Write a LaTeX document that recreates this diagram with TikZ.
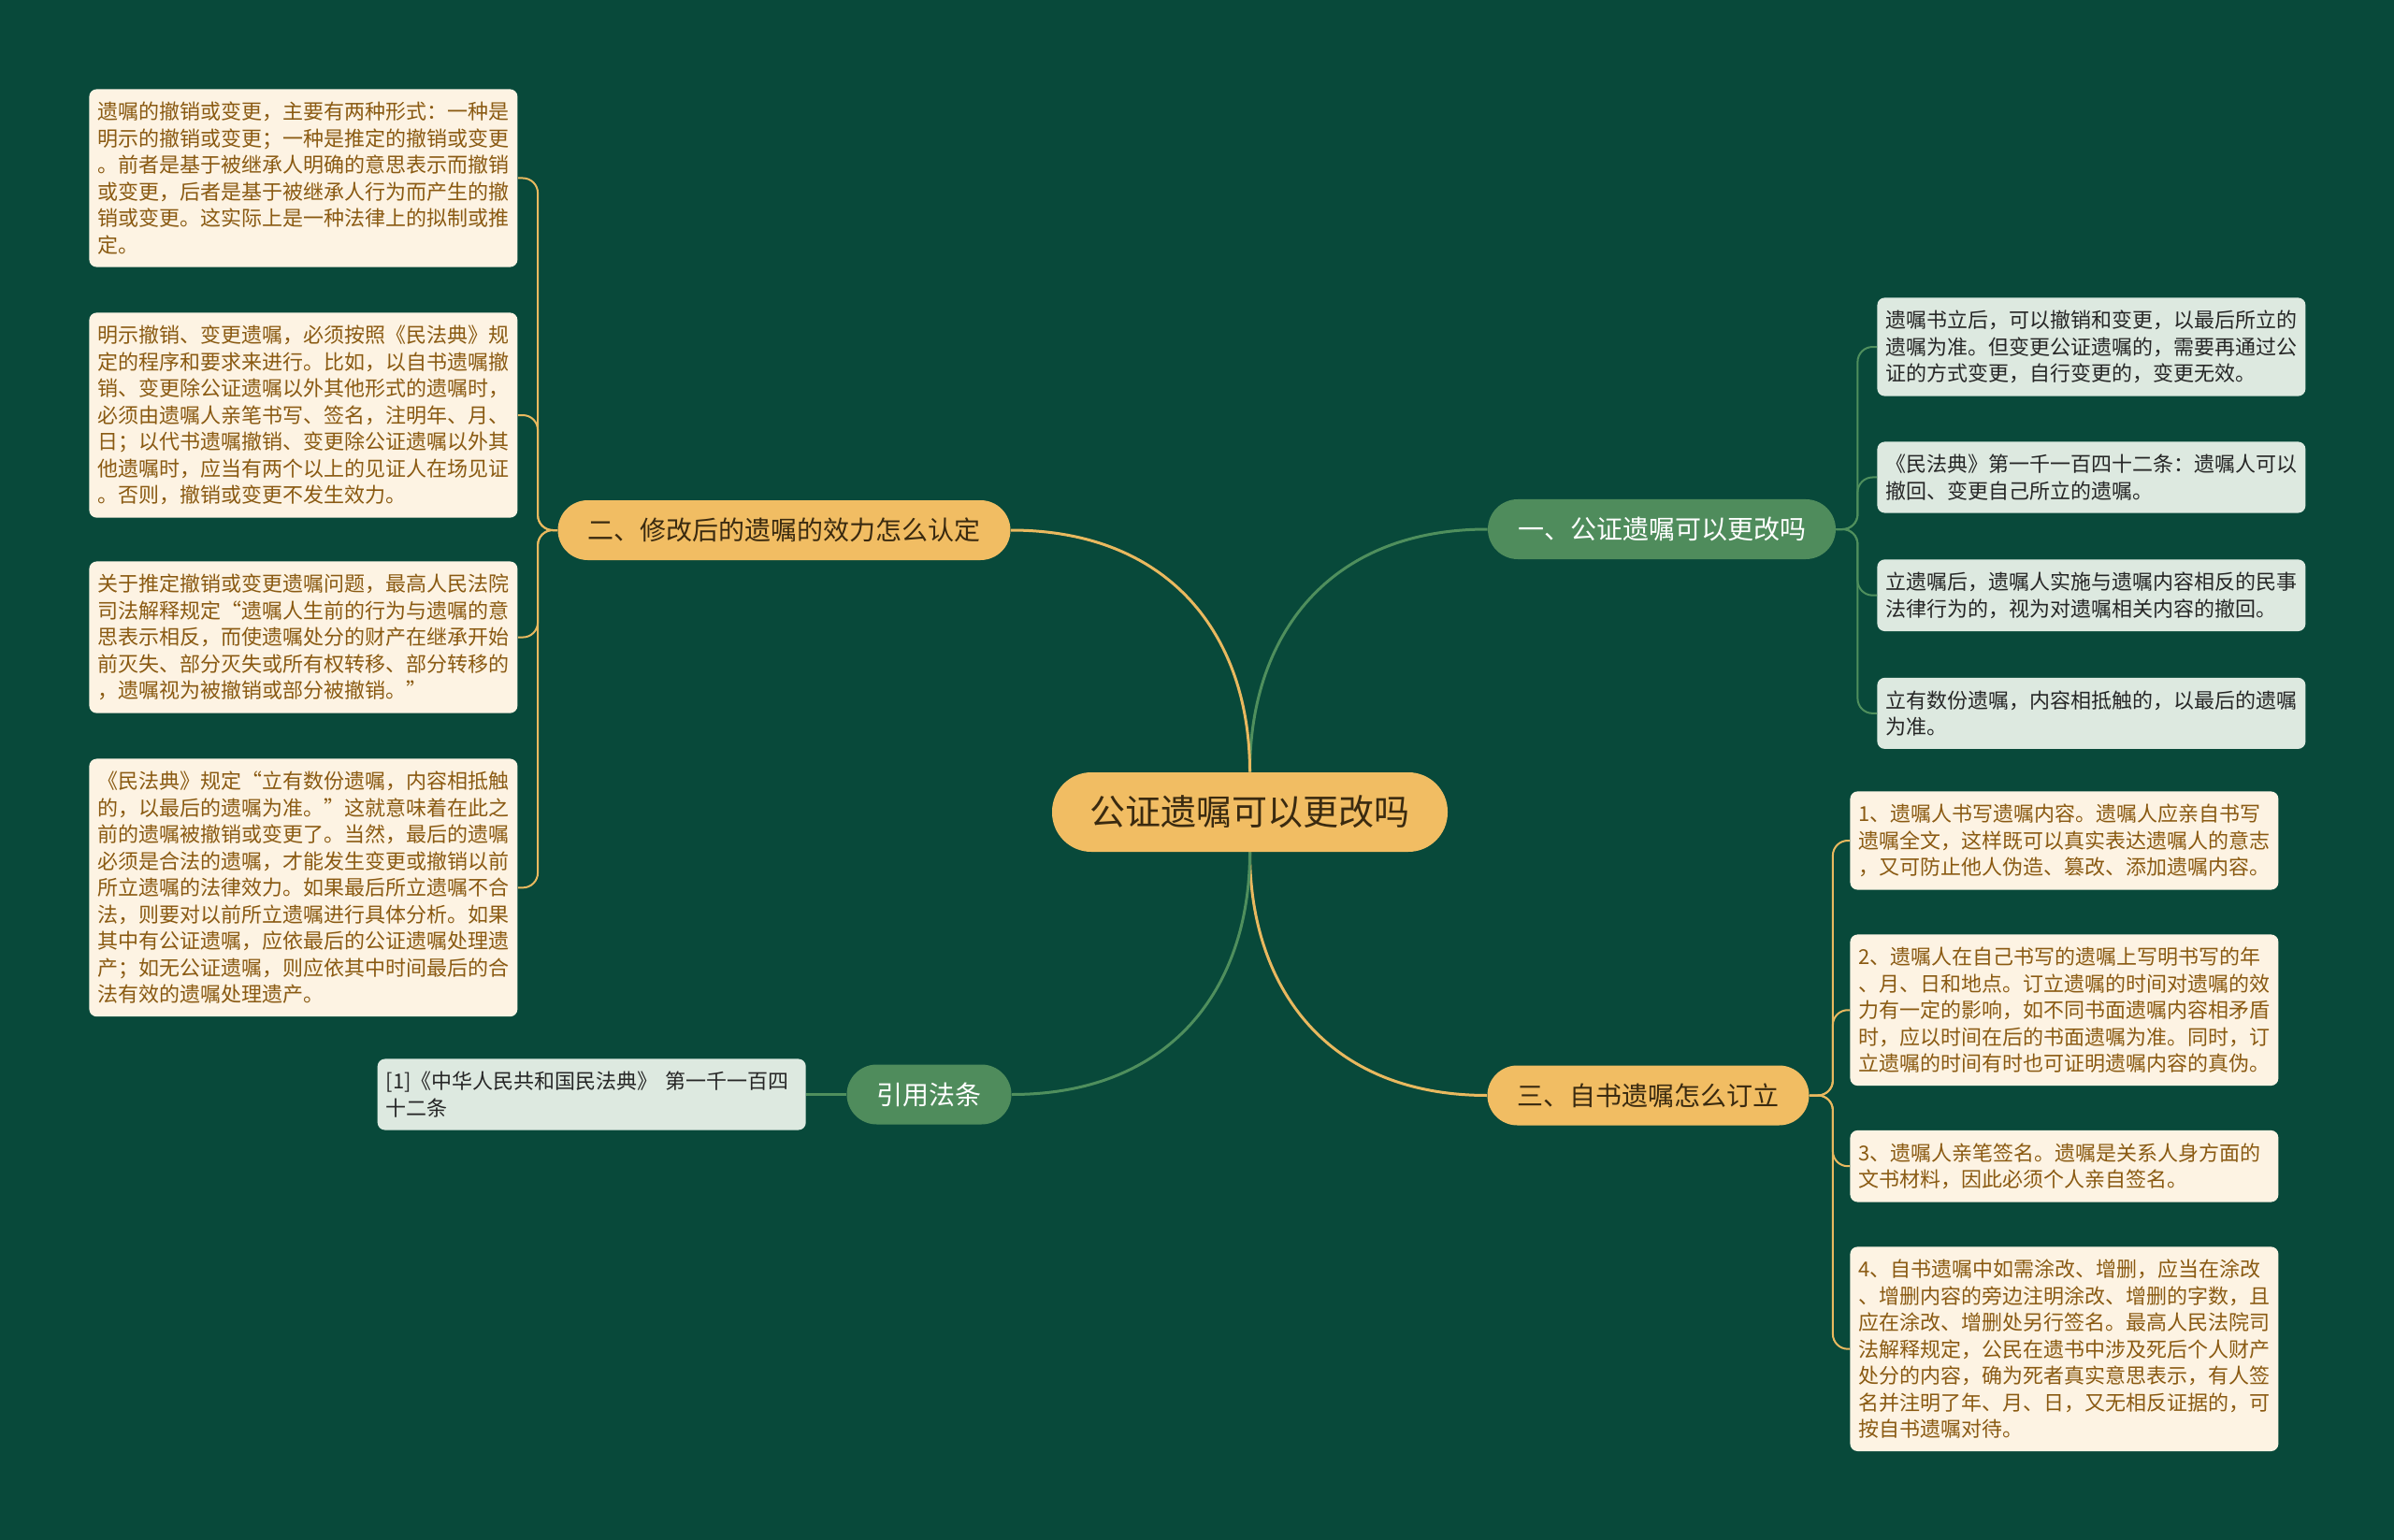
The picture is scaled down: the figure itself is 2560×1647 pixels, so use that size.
\documentclass[tikz,border=0pt]{standalone}
\usepackage{fontspec}
\setmainfont{Noto Sans CJK SC}
\usetikzlibrary{positioning}
\definecolor{cbg}{HTML}{08493A}
\definecolor{corange}{HTML}{F1BD63}
\definecolor{cgreen}{HTML}{4F8C5C}
\definecolor{ccream}{HTML}{FDF3E3}
\definecolor{cmint}{HTML}{DDE9E0}
\definecolor{cbrown}{HTML}{8A5A12}
\definecolor{cdark}{HTML}{3A2A10}
\definecolor{cyline}{HTML}{E9B95F}
\definecolor{cgline}{HTML}{4F8F5D}
\tikzset{
  root/.style={fill=corange, text=cdark, rounded corners=21pt, minimum width=211.5pt, minimum height=42.5pt, font=\fontsize{19}{22}\selectfont},
  topic/.style={fill=#1, rounded corners=16pt, minimum height=32pt, inner xsep=16pt, inner ysep=0pt, font=\fontsize{14}{16}\selectfont},
  leaf/.style={fill=#1, rounded corners=4pt, text width=220pt, align=left, inner xsep=4.5pt, inner ysep=6.8pt, font=\fontsize{11}{14.25}\selectfont},
  link/.style={draw=#1, line width=1.5pt},
  twig/.style={draw=#1, line width=1pt, rounded corners=8pt},
}

\begin{document}
\begin{tikzpicture}[x=0.5pt, y=-0.5pt]
  \fill[cbg] (0,0) rectangle (2560,1647);
  \node[root] (ctr) at (1336.5,868.5) {公证遗嘱可以更改吗};
  \node[topic=cgreen, text=white] (t1) at (1777,566) {一、公证遗嘱可以更改吗};
  \node[topic=corange, text=cdark] (t2) at (838.5,567) {二、修改后的遗嘱的效力怎么认定};
  \node[topic=corange, text=cdark] (t3) at (1762.5,1171.5) {三、自书遗嘱怎么订立};
  \node[topic=cgreen, text=white] (t4) at (993.5,1170.5) {引用法条};

  \node[leaf=ccream, text=cbrown, anchor=north west] (l1) at (95,95) {遗嘱的撤销或变更，主要有两种形式：一种是\\明示的撤销或变更；一种是推定的撤销或变更\\。前者是基于被继承人明确的意思表示而撤销\\或变更，后者是基于被继承人行为而产生的撤\\销或变更。这实际上是一种法律上的拟制或推\\定。};
  \node[leaf=ccream, text=cbrown, below=24pt of l1] (l2) {明示撤销、变更遗嘱，必须按照《民法典》规\\定的程序和要求来进行。比如，以自书遗嘱撤\\销、变更除公证遗嘱以外其他形式的遗嘱时，\\必须由遗嘱人亲笔书写、签名，注明年、月、\\日；以代书遗嘱撤销、变更除公证遗嘱以外其\\他遗嘱时，应当有两个以上的见证人在场见证\\。否则，撤销或变更不发生效力。};
  \node[leaf=ccream, text=cbrown, below=23pt of l2] (l3) {关于推定撤销或变更遗嘱问题，最高人民法院\\司法解释规定“遗嘱人生前的行为与遗嘱的意\\思表示相反，而使遗嘱处分的财产在继承开始\\前灭失、部分灭失或所有权转移、部分转移的\\，遗嘱视为被撤销或部分被撤销。”};
  \node[leaf=ccream, text=cbrown, below=24pt of l3] (l4) {《民法典》规定“立有数份遗嘱，内容相抵触\\的，以最后的遗嘱为准。”这就意味着在此之\\前的遗嘱被撤销或变更了。当然，最后的遗嘱\\必须是合法的遗嘱，才能发生变更或撤销以前\\所立遗嘱的法律效力。如果最后所立遗嘱不合\\法，则要对以前所立遗嘱进行具体分析。如果\\其中有公证遗嘱，应依最后的公证遗嘱处理遗\\产；如无公证遗嘱，则应依其中时间最后的合\\法有效的遗嘱处理遗产。};

  \node[leaf=cmint, text=black!85, anchor=north west] (r1) at (2007,318) {遗嘱书立后，可以撤销和变更，以最后所立的\\遗嘱为准。但变更公证遗嘱的，需要再通过公\\证的方式变更，自行变更的，变更无效。};
  \node[leaf=cmint, text=black!85, below=24pt of r1] (r2) {《民法典》第一千一百四十二条：遗嘱人可以\\撤回、变更自己所立的遗嘱。};
  \node[leaf=cmint, text=black!85, below=24.5pt of r2] (r3) {立遗嘱后，遗嘱人实施与遗嘱内容相反的民事\\法律行为的，视为对遗嘱相关内容的撤回。};
  \node[leaf=cmint, text=black!85, below=24.5pt of r3] (r4) {立有数份遗嘱，内容相抵触的，以最后的遗嘱\\为准。};

  \node[leaf=ccream, text=cbrown, anchor=north west] (b1) at (1978,846) {1、遗嘱人书写遗嘱内容。遗嘱人应亲自书写\\遗嘱全文，这样既可以真实表达遗嘱人的意志\\，又可防止他人伪造、篡改、添加遗嘱内容。};
  \node[leaf=ccream, text=cbrown, below=23.5pt of b1] (b2) {2、遗嘱人在自己书写的遗嘱上写明书写的年\\、月、日和地点。订立遗嘱的时间对遗嘱的效\\力有一定的影响，如不同书面遗嘱内容相矛盾\\时，应以时间在后的书面遗嘱为准。同时，订\\立遗嘱的时间有时也可证明遗嘱内容的真伪。};
  \node[leaf=ccream, text=cbrown, below=23.5pt of b2] (b3) {3、遗嘱人亲笔签名。遗嘱是关系人身方面的\\文书材料，因此必须个人亲自签名。};
  \node[leaf=ccream, text=cbrown, below=23.5pt of b3] (b4) {4、自书遗嘱中如需涂改、增删，应当在涂改\\、增删内容的旁边注明涂改、增删的字数，且\\应在涂改、增删处另行签名。最高人民法院司\\法解释规定，公民在遗书中涉及死后个人财产\\处分的内容，确为死者真实意思表示，有人签\\名并注明了年、月、日，又无相反证据的，可\\按自书遗嘱对待。};

  \node[leaf=cmint, text=black!85, left=21.5pt of t4] (cite) {[1]《中华人民共和国民法典》~第一千一百四\\十二条};

  \draw[link=cgline] (ctr.north) .. controls +(0,-146) and +(-170,0) .. (t1.west);
  \draw[link=cyline] (ctr.north) .. controls +(0,-146) and +(170,0) .. (t2.east);
  \draw[link=cyline] (ctr.south) .. controls +(0,146) and +(-170,0) .. (t3.west);
  \draw[link=cgline] (ctr.south) .. controls +(0,146) and +(170,0) .. (t4.east);
  \draw[link=cgline] (t4.west) -- (cite.east);

  \foreach \n in {r1,r2,r3,r4}
    \draw[twig=cgline] (t1.east) -- ++(23,0) |- (\n.west);
  \foreach \n in {l1,l2,l3,l4}
    \draw[twig=cyline] (t2.west) -- ++(-21,0) |- (\n.east);
  \foreach \n in {b1,b2,b3,b4}
    \draw[twig=cyline] (t3.east) -- ++(25,0) |- (\n.west);
\end{tikzpicture}
\end{document}
